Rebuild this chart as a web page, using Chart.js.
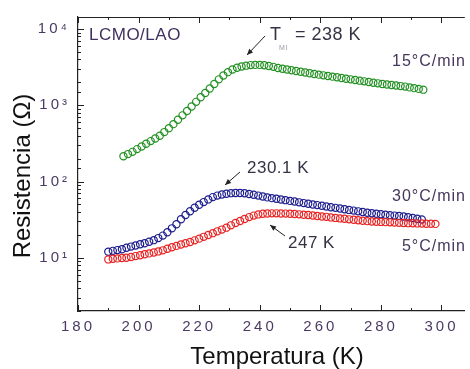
<!DOCTYPE html>
<html>
<head>
<meta charset="utf-8">
<script src="https://cdn.jsdelivr.net/npm/chart.js@4.4.1/dist/chart.umd.min.js"></script>
<style>
html, body { margin: 0; padding: 0; background: #fff; }
#wrap { width: 470px; height: 369px; position: relative; }
</style>
</head>
<body>
<div id="wrap"><canvas id="chart"></canvas></div>
<script>
// 15 C/min (green)
const temps15 = [195,196.5,198,199.5,201,202.5,204,205.5,207,208.5,210,211.5,213,214.5,216,217.5,219,220.5,222,223.5,225,226.5,228,229.5,231,232.5,234,235.5,237,238.5,240,241.5,243,244.5,246,247.5,249,250.5,252,253.5,255,256.5,258,259.5,261,262.5,264,265.5,267,268.5,270,271.5,273,274.5,276,277.5,279,280.5,282,283.5,285,286.5,288,289.5,291,292.5,294];
const res15 = [214,229,245,266,288,313,339,367,398,445,501,566,646,738,843,966,1109,1274,1452,1660,1905,2188,2455,2723,2951,3105,3221,3311,3365,3388,3388,3350,3281,3192,3090,3020,2951,2884,2818,2754,2692,2630,2576,2523,2472,2427,2377,2328,2280,2234,2188,2148,2104,2061,2018,1977,1941,1905,1875,1845,1816,1786,1758,1718,1679,1641,1603];

// 30 C/min (blue)
const temps30 = [190,191.5,193,194.5,196,197.5,199,200.5,202,203.5,205,206.5,208,209.5,211,212.5,214,215.5,217,218.5,220,221.5,223,224.5,226,227.5,229,230.5,232,233.5,235,236.5,238,239.5,241,242.5,244,245.5,247,248.5,250,251.5,253,254.5,256,257.5,259,260.5,262,263.5,265,266.5,268,269.5,271,272.5,274,275.5,277,278.5,280,281.5,283,284.5,286,287.5,289,290.5,292,293.5];
const res30 = [12.0,12.3,12.6,12.9,13.5,14.0,14.5,15.0,15.5,16.2,17.0,18.1,19.5,21.6,24.3,27.5,32.0,36.3,40.7,45.2,49.5,53.7,58.2,62.4,65.3,67.6,69.2,70.3,70.8,70.6,70.0,68.5,67.0,65.3,63.7,61.9,60.5,59.3,58.1,56.9,55.7,54.6,53.3,52.1,51.1,50.0,49.0,48.0,47.0,46.0,45.1,44.2,43.3,42.4,41.5,40.6,39.8,39.0,38.3,37.8,37.2,36.7,36.2,35.7,35.2,34.7,33.9,33.2,32.4,31.8];

// 5 C/min (red)
const temps5 = [190,191.5,193,194.5,196,197.5,199,200.5,202,203.5,205,206.5,208,209.5,211,212.5,214,215.5,217,218.5,220,221.5,223,224.5,226,227.5,229,230.5,232,233.5,235,236.5,238,239.5,241,242.5,244,245.5,247,248.5,250,251.5,253,254.5,256,257.5,259,260.5,262,263.5,265,266.5,268,269.5,271,272.5,274,275.5,277,278.5,280,281.5,283,284.5,286,287.5,289,290.5,292,293.5,295,296.5,298];
const res5 = [9.5,9.7,9.8,9.9,10.0,10.2,10.5,10.8,11.1,11.4,11.7,12.1,12.5,13.1,13.7,14.3,14.9,15.5,16.1,16.9,17.8,18.8,19.9,21.0,22.2,23.4,24.8,26.6,28.5,30.3,32.2,34.1,35.7,37.0,37.8,38.1,38.2,38.2,38.1,37.9,37.7,37.4,37.1,36.7,36.3,35.8,35.3,34.8,34.4,33.8,33.3,32.8,32.4,31.9,31.5,31.0,30.6,30.2,29.9,29.7,29.5,29.3,29.1,28.9,28.7,28.6,28.4,28.3,28.2,28.1,27.9,27.9,27.8];

const xTickLabels = ['180','200','220','240','260','280','300'];
const yTickLabels = {10: '10\u00B9', 100: '10\u00B2', 1000: '10\u00B3', 10000: '10\u2074'};

const FONT = "'Liberation Sans', Arial, sans-serif";
const AXIS = '#222';
const TICKTXT = '#4b3a63';

function pairs(xs, ys) {
    const n = Math.min(xs.length, ys.length);
    const out = [];
    for (let i = 0; i < n; i++) out.push({x: xs[i], y: ys[i]});
    return out;
}

function isDecade(v) {
    const l = Math.log10(v);
    return Math.abs(l - Math.round(l)) < 1e-6;
}

function arrow(ctx, x1, y1, x2, y2) {
    ctx.beginPath();
    ctx.moveTo(x1, y1);
    ctx.lineTo(x2, y2);
    ctx.stroke();
    const ang = Math.atan2(y2 - y1, x2 - x1);
    const len = 6, w = 2.6;
    ctx.beginPath();
    ctx.moveTo(x2, y2);
    ctx.lineTo(x2 - len * Math.cos(ang) + w * Math.sin(ang), y2 - len * Math.sin(ang) - w * Math.cos(ang));
    ctx.lineTo(x2 - len * Math.cos(ang) - w * Math.sin(ang), y2 - len * Math.sin(ang) + w * Math.cos(ang));
    ctx.closePath();
    ctx.fill();
}

function txt(ctx, s, x, y, size, color, align, spacing) {
    ctx.font = size + 'px ' + FONT;
    ctx.fillStyle = color;
    ctx.textAlign = align || 'left';
    ctx.textBaseline = 'middle';
    ctx.letterSpacing = (spacing || 0) + 'px';
    ctx.fillText(s, x, y);
}

const frame = {
    id: 'frame',
    beforeDraw(chart) {
        chart.ctx.letterSpacing = '3px';
    },
    beforeDatasetsDraw(chart) {
        chart.ctx.letterSpacing = '0px';
    },
    afterDraw(chart) {
        const {ctx, chartArea: a, scales: {x, y}} = chart;
        ctx.save();
        ctx.strokeStyle = AXIS;
        ctx.lineWidth = 1.2;

        // top frame line
        ctx.beginPath();
        ctx.moveTo(a.left, a.top + 0.5);
        ctx.lineTo(a.right, a.top + 0.5);
        ctx.stroke();

        // inward tick marks
        ctx.lineWidth = 1;
        ctx.beginPath();
        x.ticks.forEach(t => {
            const px = Math.round(x.getPixelForValue(t.value)) + 0.5;
            const len = t.value % 20 === 0 ? 6 : 3;
            ctx.moveTo(px, a.bottom);
            ctx.lineTo(px, a.bottom - len);
            ctx.moveTo(px, a.top);
            ctx.lineTo(px, a.top + len);
        });
        y.ticks.forEach(t => {
            const py = Math.round(y.getPixelForValue(t.value)) + 0.5;
            const len = isDecade(t.value) ? 6 : 3;
            ctx.moveTo(a.left, py);
            ctx.lineTo(a.left + len, py);
        });
        ctx.stroke();

        // axis titles
        txt(ctx, 'Temperatura (K)', 277, 357, 24, '#111', 'center', 0);
        ctx.save();
        ctx.translate(23, 176);
        ctx.rotate(-Math.PI / 2);
        txt(ctx, 'Resistencia (\u03A9)', 0, 0, 24, '#111', 'center', 0);
        ctx.restore();

        // annotations
        txt(ctx, 'LCMO/LAO', 89, 35, 17, '#40305e', 'left', 0.5);
        txt(ctx, 'T', 270, 35, 18, '#333344', 'left', 0);
        txt(ctx, 'MI', 279, 48, 7, '#9a9aa8', 'left', 1);
        txt(ctx, '= 238 K', 295, 35, 18, '#333344', 'left', 0.5);
        txt(ctx, '230.1 K', 247, 168, 17, '#333344', 'left', 0.5);
        txt(ctx, '247 K', 288, 243, 17, '#333344', 'left', 0.5);
        txt(ctx, '15\u00B0C/min', 466, 62, 16, '#45375c', 'right', 1);
        txt(ctx, '30\u00B0C/min', 466, 197, 16, '#45375c', 'right', 1);
        txt(ctx, '5\u00B0C/min', 466, 247, 16, '#45375c', 'right', 1);

        ctx.strokeStyle = '#222';
        ctx.fillStyle = '#222';
        ctx.lineWidth = 1;
        arrow(ctx, 265, 36, 247, 55);
        arrow(ctx, 240, 172, 225, 185);
        arrow(ctx, 285, 236, 270, 225);
        ctx.restore();
    }
};

function series(data, color) {
    return {
        data: data,
        showLine: false,
        pointStyle: 'circle',
        pointRadius: 3.6,
        pointBorderWidth: 1.2,
        pointBorderColor: color,
        pointBackgroundColor: 'rgba(255,255,255,0)',
        borderColor: color
    };
}

new Chart(document.getElementById('chart'), {
    type: 'scatter',
    data: {
        datasets: [
            series(pairs(temps5, res5), '#e82323'),
            series(pairs(temps30, res30), '#1d1d8e'),
            series(pairs(temps15, res15), '#239123')
        ]
    },
    options: {
        responsive: true,
        maintainAspectRatio: false,
        animation: false,
        layout: { padding: { top: 13, right: 0, left: 0, bottom: 0 } },
        plugins: { legend: { display: false }, tooltip: { enabled: false } },
        scales: {
            x: {
                type: 'linear',
                min: 180,
                max: 307.7,
                grid: { display: false, drawTicks: false },
                border: { display: true, color: AXIS, width: 1.2 },
                ticks: {
                    stepSize: 10,
                    includeBounds: false,
                    autoSkip: false,
                    maxRotation: 0,
                    padding: 7,
                    color: TICKTXT,
                    font: { family: FONT, size: 15 },
                    callback: v => xTickLabels.includes(String(v)) ? String(v) : ''
                },
                afterFit: s => { s.height = 58; }
            },
            y: {
                type: 'logarithmic',
                min: 2,
                max: 14400,
                grid: { display: false, drawTicks: false },
                border: { display: true, color: AXIS, width: 1.2 },
                ticks: {
                    autoSkip: false,
                    padding: 8,
                    color: TICKTXT,
                    font: { family: FONT, size: 15 },
                    callback: v => yTickLabels[Math.round(v)] && isDecade(v) ? yTickLabels[Math.round(v)] : ''
                },
                afterFit: s => { s.width = 78; }
            }
        }
    },
    plugins: [frame]
});
</script>
</body>
</html>
